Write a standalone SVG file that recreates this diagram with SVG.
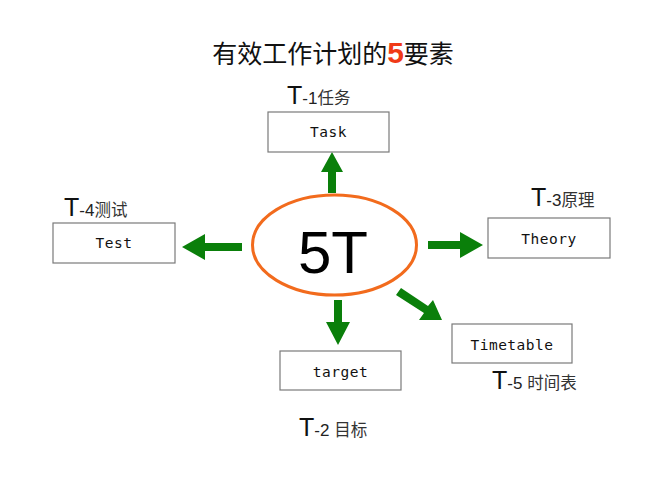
<svg xmlns="http://www.w3.org/2000/svg" width="671" height="478" viewBox="0 0 671 478">
<style>
.box{fill:#fff;stroke:#7a7a7a;stroke-width:1.2}
.bt{font-family:"DejaVu Sans Mono","Liberation Mono",monospace;font-size:14.5px;fill:#111;text-anchor:middle;letter-spacing:0.5px}
.lbl{font-family:"Liberation Sans","Noto Sans CJK SC",sans-serif;fill:#222}
.big{font-size:25px;fill:#111}
.sm{font-size:17px}
.cj{font-family:"Noto Sans CJK SC",sans-serif;font-size:16.5px;fill:#333}
.arr{fill:#0a7f0a}
</style>
<rect width="671" height="478" fill="#fff"/>
<text x="333" y="63" text-anchor="middle" font-family="Noto Sans CJK SC,sans-serif" font-size="25" fill="#111">有效工作计划的<tspan font-family="Liberation Sans,sans-serif" font-weight="bold" font-size="30" fill="#f03a17">5</tspan>要素</text>
<g id="connectors">
<polygon class="arr" points="328,193 336,193 336,172 343,172 332,152 321,172 328,172"/>
<polygon class="arr" points="242,243 242,251 205,251 205,260 182,247 205,234 205,243"/>
<polygon class="arr" points="428,241 428,249 460,249 460,258 483,245 460,232 460,241"/>
<polygon class="arr" points="334,300 342,300 342,322 350,322 338,345 326,322 334,322"/>
<polygon class="arr" points="401,288 396,295 424,313 419,320 442,320 433,300 428,306"/>
</g>
<g id="center">
<ellipse cx="334.5" cy="245" rx="82" ry="50" fill="#fff" stroke="#f26b1d" stroke-width="3"/>
<text x="333" y="273" text-anchor="middle" font-family="Liberation Sans,sans-serif" font-size="60" fill="#000">5T</text>
</g>
<g id="task">
<rect class="box" x="268" y="112" width="121" height="40"/>
<text class="bt" x="328.5" y="137">Task</text>
<text class="lbl" x="287" y="104"><tspan class="big">T</tspan><tspan class="sm">-1</tspan><tspan class="cj">任务</tspan></text>
</g>
<g id="test">
<rect class="box" x="53" y="223" width="122" height="40"/>
<text class="bt" x="114" y="248">Test</text>
<text class="lbl" x="64" y="216"><tspan class="big">T</tspan><tspan class="sm">-4</tspan><tspan class="cj">测试</tspan></text>
</g>
<g id="theory">
<rect class="box" x="488" y="218" width="122" height="40"/>
<text class="bt" x="549" y="244">Theory</text>
<text class="lbl" x="531" y="206"><tspan class="big">T</tspan><tspan class="sm">-3</tspan><tspan class="cj">原理</tspan></text>
</g>
<g id="timetable">
<rect class="box" x="452" y="324" width="120" height="39"/>
<text class="bt" x="512" y="350">Timetable</text>
<text class="lbl" x="492" y="389"><tspan class="big">T</tspan><tspan class="sm">-5 </tspan><tspan class="cj">时间表</tspan></text>
</g>
<g id="target">
<rect class="box" x="280" y="351" width="121" height="39"/>
<text class="bt" x="340.5" y="377">target</text>
<text class="lbl" x="299" y="436"><tspan class="big">T</tspan><tspan class="sm">-2 </tspan><tspan class="cj">目标</tspan></text>
</g>
</svg>
